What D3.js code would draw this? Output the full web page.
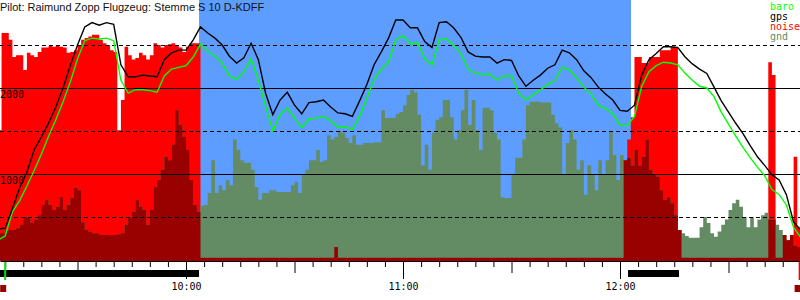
<!DOCTYPE html>
<html>
<head>
<meta charset="utf-8">
<script src="https://cdn.jsdelivr.net/npm/d3@7"></script>
<style>
  html, body { margin: 0; padding: 0; background: #fff; }
  svg { display: block; }
</style>
</head>
<body>
<svg id="chart"></svg>
<script>
const title = "Pilot: Raimund Zopp Flugzeug: Stemme S 10 D-KDFF";

// samples: noise and gnd every minute, gps and baro every 2 minutes, from 09:08
const firstSample = "09:08:00";
const barStep = 1;
const lineStep = 2;

const noise = [
  1510,2640,2640,2560,2360,2380,2380,2210,2410,2380,
  2360,2420,2470,2470,2490,2480,2500,2480,2470,2410,
  2420,2440,2500,2560,2580,2600,2620,2620,2560,2520,
  2500,2440,2420,1510,1860,2480,2380,2330,2350,2410,
  2380,2330,2380,2520,2500,2470,2500,2510,2520,2500,
  2470,2420,2480,2520,2520,2520,25,25,25,25,
  25,25,25,25,25,25,25,25,25,25,
  25,25,25,25,25,25,25,25,25,25,
  25,25,25,25,25,25,25,25,25,25,
  25,25,25,150,25,25,25,25,25,25,
  25,25,25,25,25,25,25,25,25,25,
  25,25,25,25,25,25,25,25,25,25,
  25,25,25,25,25,25,25,25,25,25,
  25,25,25,25,25,25,25,25,25,25,
  25,25,25,25,25,25,25,25,25,25,
  25,25,25,25,25,25,25,25,25,25,
  25,25,25,25,25,25,25,25,25,25,
  25,25,25,1160,1400,1660,2360,2360,2290,2290,
  2360,2360,2360,2440,2440,2440,2480,2480,350,25,
  25,25,25,25,25,25,25,25,25,25,
  25,25,25,25,25,25,25,25,25,25,
  25,25,25,2300,2150,25,25,290,230,290,
  1200,380,380
];

const gnd = [
  310,310,340,350,350,370,410,500,490,430,
  470,520,640,700,640,580,620,730,580,640,
  720,840,810,440,350,330,310,310,290,290,
  290,290,290,300,310,410,490,560,700,620,
  580,410,580,850,930,1050,1200,1160,1340,1740,
  1570,1430,1280,930,640,560,630,640,780,1160,
  780,870,810,930,870,1400,1280,1160,1130,1130,
  1050,850,700,780,780,810,810,790,790,790,
  790,870,910,780,990,1050,1160,1160,1280,1140,
  1160,1450,1400,1430,1500,1480,1420,1360,1450,1340,
  1340,1360,1360,1360,1370,1370,1740,1650,1650,1650,
  1700,1720,1800,1920,1980,1950,1690,1100,1340,1050,
  1480,1630,1660,1860,1860,1660,1400,1510,1740,1980,
  1570,1860,1510,1280,1770,1770,1740,1480,1400,730,
  720,720,990,1190,1190,1400,1800,1840,1840,1840,
  1830,1830,1830,1690,1590,1540,990,1360,1510,1400,
  1050,1160,760,1100,990,810,1160,990,1160,1490,
  1220,930,1220,1160,1190,1100,1280,1100,1200,1400,
  1050,990,970,810,700,730,660,520,350,310,
  280,260,260,260,380,500,430,310,270,330,
  410,470,580,660,700,620,500,380,500,380,
  470,520,550,470,470,410,350,290,230,290,
  170,150,150
];

const gps = [
  360,370,600,840,1020,1280,1430,1590,1780,2000,
  2260,2500,2710,2760,2730,2760,2740,2270,2130,2130,
  2150,2140,2130,2330,2410,2440,2440,2560,2710,2640,
  2580,2500,2370,2290,2350,2520,2330,1940,1690,1860,
  1950,1800,1700,1830,1840,1860,1780,1710,1700,1670,
  1850,2040,2270,2420,2580,2790,2790,2700,2700,2540,
  2470,2760,2770,2700,2590,2420,2370,2360,2360,2290,
  2330,2320,2140,2020,2090,2150,2230,2270,2440,2410,
  2330,2200,2120,2010,1930,1860,1740,1730,1800,2150,
  2330,2400,2480,2480,2470,2360,2280,2220,2170,2010,
  1850,1720,1590,1470,1330,1200,1100,990,930,760,
  440,350
];

const baro = [
  230,280,560,690,860,1040,1230,1440,1630,1840,
  2070,2340,2550,2580,2570,2580,2550,2090,1940,1980,
  1980,1970,1950,2140,2220,2240,2260,2360,2510,2430,
  2370,2290,2140,2100,2190,2340,2090,1790,1500,1690,
  1770,1650,1540,1640,1650,1670,1620,1540,1550,1520,
  1670,1880,2100,2220,2300,2560,2610,2510,2530,2340,
  2270,2560,2570,2500,2400,2220,2170,2160,2160,2090,
  2140,2140,1940,1860,1920,1980,2040,2090,2240,2210,
  2120,2010,1930,1800,1760,1700,1570,1560,1670,2020,
  2190,2260,2300,2290,2270,2170,2090,2020,2000,1900,
  1720,1580,1440,1310,1190,1080,980,820,760,640,
  380,260
];

const solidLevels = [1000, 2000];
const dashedLevels = [500, 1500, 2500];
const soaring = [["10:03:36", "12:03:03"]];
const motorRuns = [["09:08:34", "10:03:36"], ["12:02:13", "12:16:19"], ["12:49:38", "12:51:00"]];
const markers = [
  { time: "09:10:00", color: "#00e000" },
  { time: "12:49:40", color: "#ff0000" }
];
const legendItems = [
  { name: "baro", color: "#00ff00" },
  { name: "gps", color: "#000000" },
  { name: "noise", color: "#ff0000" },
  { name: "gnd", color: "#648c64" }
];

const width = 800, height = 300;
const baseY = 261;
const parseT = d3.timeParse("%H:%M:%S");
const t0 = parseT(firstSample);

const svg = d3.select("#chart").attr("width", width).attr("height", height);

const x = d3.scaleTime()
  .domain([parseT("09:08:34"), parseT("12:49:46")])
  .range([0, width]);
const y = d3.scaleLinear().domain([0, 3000]).range([260, 2]);

const barData = noise.map((n, i) => ({
  t: d3.timeMinute.offset(t0, i * barStep),
  noise: n,
  gnd: gnd[i]
}));
// extra point so the last step gets its width
const last = barData[barData.length - 1];
barData.push({ ...last, t: d3.timeMinute.offset(last.t, barStep) });

const lineData = gps.map((g, i) => ({
  t: d3.timeMinute.offset(t0, i * lineStep),
  gps: g,
  baro: baro[i]
}));

// soaring background
svg.append("g")
  .selectAll("rect")
  .data(soaring)
  .join("rect")
  .attr("x", d => x(parseT(d[0])))
  .attr("width", d => x(parseT(d[1])) - x(parseT(d[0])))
  .attr("y", 0)
  .attr("height", baseY)
  .attr("fill", "#5c9dff");

const area = key => d3.area()
  .curve(d3.curveStepAfter)
  .x(d => x(d.t))
  .y0(baseY)
  .y1(d => y(key(d)));

svg.append("path").datum(barData)
  .attr("d", area(d => d.noise))
  .attr("fill", "#ff0000");

svg.append("path").datum(barData)
  .attr("d", area(d => d.gnd))
  .attr("fill", "#648c64");

svg.append("path").datum(barData)
  .attr("d", area(d => Math.min(d.noise, d.gnd)))
  .attr("fill", "#990000");

// grid
svg.append("g")
  .selectAll("line")
  .data(solidLevels)
  .join("line")
  .attr("x1", 0).attr("x2", width)
  .attr("y1", d => Math.round(y(d)) + 0.5)
  .attr("y2", d => Math.round(y(d)) + 0.5)
  .attr("stroke", "#000");

svg.append("g")
  .selectAll("line")
  .data(dashedLevels)
  .join("line")
  .attr("x1", 0).attr("x2", width)
  .attr("y1", d => Math.round(y(d)) + 0.5)
  .attr("y2", d => Math.round(y(d)) + 0.5)
  .attr("stroke", "#000")
  .attr("stroke-dasharray", "4,3");

svg.append("g")
  .selectAll("text")
  .data(solidLevels)
  .join("text")
  .attr("x", 0)
  .attr("y", d => y(d) + 10)
  .attr("font-family", "DejaVu Sans Mono")
  .attr("font-size", "10px")
  .attr("fill", "#000")
  .text(d => d);

// altitude lines
const line = key => d3.line()
  .x(d => x(d.t))
  .y(d => y(key(d)));

svg.append("path").datum(lineData)
  .attr("d", line(d => d.baro))
  .attr("fill", "none")
  .attr("stroke", "#00ff00")
  .attr("stroke-width", 1.4);

svg.append("path").datum(lineData)
  .attr("d", line(d => d.gps))
  .attr("fill", "none")
  .attr("stroke", "#000")
  .attr("stroke-width", 1.4);

// time axis
const axis = svg.append("g")
  .attr("transform", `translate(0,${baseY})`)
  .call(d3.axisBottom(x)
    .ticks(d3.timeMinute.every(5))
    .tickSizeOuter(0)
    .tickFormat(d => d.getMinutes() === 0 ? d3.timeFormat("%H:%M")(d) : ""));

axis.select(".domain").attr("stroke", "#000");
axis.selectAll(".tick line")
  .attr("stroke", "#000")
  .attr("y2", d => d.getMinutes() === 0 ? 18 : d.getMinutes() === 30 ? 12 : 6);
axis.selectAll(".tick text")
  .attr("y", 29)
  .attr("dy", 0)
  .attr("font-family", "DejaVu Sans Mono")
  .attr("font-size", "10px")
  .attr("fill", "#000");

svg.append("g")
  .selectAll("rect")
  .data(motorRuns)
  .join("rect")
  .attr("x", d => x(parseT(d[0])))
  .attr("width", d => x(parseT(d[1])) - x(parseT(d[0])))
  .attr("y", 270)
  .attr("height", 7)
  .attr("fill", "#000");

const mk = svg.append("g").selectAll("g").data(markers).join("g");
mk.append("rect")
  .attr("x", d => x(parseT(d.time)) - 1)
  .attr("y", 262)
  .attr("width", 2)
  .attr("height", 18)
  .attr("fill", d => d.color);
mk.append("rect")
  .attr("x", d => x(parseT(d.time)) - 5)
  .attr("y", 285)
  .attr("width", 6)
  .attr("height", 7)
  .attr("fill", "#990000");

// title + legend
svg.append("text")
  .attr("x", 0)
  .attr("y", 11)
  .attr("font-family", "Liberation Sans, Arial, sans-serif")
  .attr("font-size", "11px")
  .attr("fill", "#111")
  .text(title);

svg.append("g")
  .selectAll("text")
  .data(legendItems)
  .join("text")
  .attr("x", 770)
  .attr("y", (d, i) => 10 + i * 10)
  .attr("font-family", "DejaVu Sans Mono")
  .attr("font-size", "10px")
  .attr("fill", d => d.color)
  .text(d => d.name);
</script>
</body>
</html>
